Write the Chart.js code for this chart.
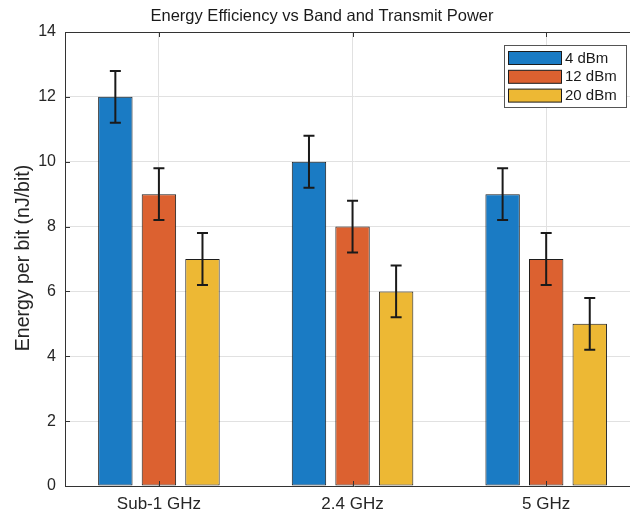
<!DOCTYPE html>
<html>
<head>
<meta charset="utf-8">
<script src="https://cdn.jsdelivr.net/npm/chart.js@4.4.1/dist/chart.umd.min.js"></script>
<style>
  html, body { margin: 0; padding: 0; background: #fff; overflow: hidden; }
  #wrap { width: 630px; height: 513px; overflow: hidden; position: relative; }
  canvas { display: block; }
</style>
</head>
<body>
<div id="wrap"><canvas id="c" width="660" height="513"></canvas></div>
<script>
const chartTitle = 'Energy Efficiency vs Band and Transmit Power';
const yAxisTitle = 'Energy per bit (nJ/bit)';
const categories = ['Sub-1 GHz', '2.4 GHz', '5 GHz'];
const seriesLabels = ['4 dBm', '12 dBm', '20 dBm'];
const values4dBm = [12, 10, 9];
const values12dBm = [9, 8, 7];
const values20dBm = [7, 6, 5];
const errors4dBm = [0.8, 0.8, 0.8];
const errors12dBm = [0.8, 0.8, 0.8];
const errors20dBm = [0.8, 0.8, 0.8];
const seriesColors = ['#1a7bc4', '#dc6130', '#edb834'];

const FONT = '"Liberation Sans", Arial, Helvetica, sans-serif';
const AXIS = '#333333';

const seriesValues = [values4dBm, values12dBm, values20dBm];
const seriesErrors = [errors4dBm, errors12dBm, errors20dBm];

const datasets = seriesLabels.map((lab, s) => ({
  label: lab,
  data: seriesValues[s].map((v, i) => ({ x: i + 1, y: v })),
  errors: seriesErrors[s],
  backgroundColor: seriesColors[s],
  borderColor: '#1c1c1c',
  borderWidth: 1,
  borderSkipped: false,
  categoryPercentage: 0.675,
  barPercentage: 0.79
}));

const decor = {
  id: 'decor',
  afterDatasetsDraw(chart) {
    const ctx = chart.ctx;
    const ca = chart.chartArea;
    const xs = chart.scales.x, ys = chart.scales.y;
    ctx.save();
    // error bars
    chart.data.datasets.forEach((ds, di) => {
      const meta = chart.getDatasetMeta(di);
      meta.data.forEach((bar, i) => {
        const v = ds.data[i].y, e = ds.errors[i];
        const x = bar.x;
        const yt = ys.getPixelForValue(v + e), yb = ys.getPixelForValue(v - e);
        ctx.strokeStyle = '#1a1a1a';
        ctx.lineWidth = 2;
        ctx.beginPath();
        ctx.moveTo(x, yt); ctx.lineTo(x, yb);
        ctx.moveTo(x - 5.5, yt); ctx.lineTo(x + 5.5, yt);
        ctx.moveTo(x - 5.5, yb); ctx.lineTo(x + 5.5, yb);
        ctx.stroke();
      });
    });
    // box top line
    ctx.strokeStyle = AXIS;
    ctx.lineWidth = 1;
    ctx.beginPath();
    ctx.moveTo(ca.left, Math.round(ca.top) + 0.5);
    ctx.lineTo(ca.right, Math.round(ca.top) + 0.5);
    ctx.stroke();
    // inward ticks
    ctx.beginPath();
    ys.ticks.forEach(t => {
      const y = Math.round(ys.getPixelForValue(t.value)) + 0.5;
      ctx.moveTo(ca.left, y); ctx.lineTo(ca.left + 5, y);
    });
    xs.ticks.forEach(t => {
      const x = Math.round(xs.getPixelForValue(t.value)) + 0.5;
      ctx.moveTo(x, ca.bottom); ctx.lineTo(x, ca.bottom - 5);
      ctx.moveTo(x, ca.top); ctx.lineTo(x, ca.top + 5);
    });
    ctx.stroke();
    // legend
    const lx = 504, ly = 45, lw = 122, lh = 62;
    ctx.fillStyle = '#ffffff';
    ctx.fillRect(lx, ly, lw, lh);
    ctx.strokeStyle = '#555555';
    ctx.strokeRect(lx + 0.5, ly + 0.5, lw, lh);
    ctx.font = '15px ' + FONT;
    ctx.textBaseline = 'middle';
    ctx.textAlign = 'left';
    chart.data.datasets.forEach((ds, di) => {
      const top = 51 + di * 18.8;
      ctx.fillStyle = ds.backgroundColor;
      ctx.fillRect(508.5, top + 0.5, 53, 13);
      ctx.strokeStyle = '#1c1c1c';
      ctx.strokeRect(508.5, top + 0.5, 53, 13);
      ctx.fillStyle = '#1a1a1a';
      ctx.fillText(ds.label, 565, top + 7.5);
    });
    // title
    ctx.fillStyle = '#1a1a1a';
    ctx.font = '16.5px ' + FONT;
    ctx.textAlign = 'center';
    ctx.fillText(chartTitle, 322, 16);
    // y axis title
    ctx.translate(24, 258);
    ctx.rotate(-Math.PI / 2);
    ctx.font = '19.5px ' + FONT;
    ctx.fillStyle = '#262626';
    ctx.fillText(yAxisTitle, 0, 0);
    ctx.restore();
  }
};

new Chart(document.getElementById('c'), {
  type: 'bar',
  data: { datasets },
  options: {
    responsive: false,
    animation: false,
    devicePixelRatio: 1,
    layout: { padding: { left: 0, right: 17, top: 32, bottom: 0 } },
    plugins: { legend: { display: false }, title: { display: false }, tooltip: { enabled: false } },
    scales: {
      x: {
        type: 'linear',
        min: 0.515,
        max: 3.5,
        offset: false,
        afterBuildTicks(scale) { scale.ticks = categories.map((c, i) => ({ value: i + 1 })); },
        afterFit(scale) { scale.height = 27; },
        grid: { color: '#e1e1e1', drawTicks: false, lineWidth: 1, offset: false },
        border: { color: AXIS, width: 1 },
        ticks: {
          padding: 8,
          color: '#262626',
          font: { family: FONT, size: 17 },
          callback: (v) => categories[Math.round(v) - 1] || ''
        }
      },
      y: {
        min: 0,
        max: 14,
        afterFit(scale) { scale.width = 65; },
        grid: { color: '#e1e1e1', drawTicks: false, lineWidth: 1 },
        border: { color: AXIS, width: 1 },
        ticks: {
          stepSize: 2,
          padding: 9,
          color: '#262626',
          font: { family: FONT, size: 16 }
        }
      }
    }
  },
  plugins: [decor]
});
</script>
</body>
</html>
